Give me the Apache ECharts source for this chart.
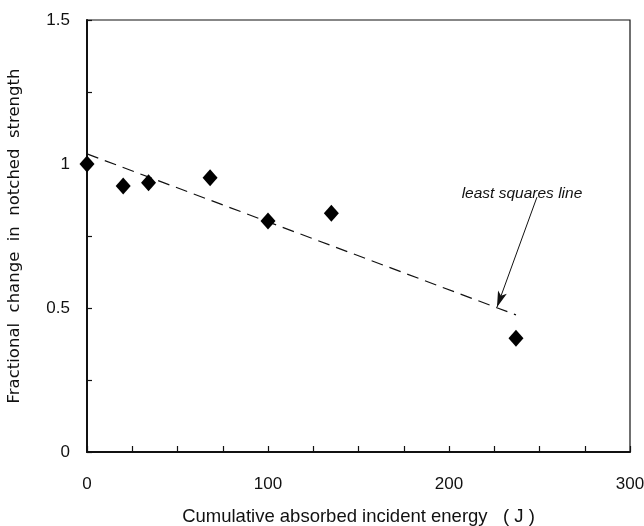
<!DOCTYPE html>
<html>
<head>
<meta charset="utf-8">
<script src="https://cdn.jsdelivr.net/npm/echarts@6/dist/echarts.min.js"></script>
<style>
  html, body { margin: 0; padding: 0; background: #fff; }
  #chart { width: 644px; height: 526px; }
</style>
</head>
<body>
<div id="chart"></div>
<script>
// Measured specimens: cumulative absorbed energy (J) vs fractional notched strength
const energy = [0, 20, 34, 68, 100, 135, 237];
const strength = [1.0, 0.924, 0.935, 0.952, 0.802, 0.829, 0.395];

// Least squares fit endpoints
const fitX = [0, 237];
const fitY = [1.035, 0.476];

// Annotation arrow: from label down to the fit line
const arrowFrom = [248.6, 0.885];
const arrowTo = [226.5, 0.503];
const arrowText = 'least squares line';

const xTicks = { min: 0, max: 300, interval: 100 };
const yTicks = { min: 0, max: 1.5, interval: 0.5 };

const chart = echarts.init(document.getElementById('chart'));

const tickFont = { fontFamily: 'Liberation Sans, Arial, sans-serif', fontSize: 17, color: '#111' };

chart.setOption({
  animation: false,
  grid: {
    left: 87, top: 20, right: 14, bottom: 74,
    containLabel: false, outerBoundsMode: 'none',
    show: true, borderColor: '#111', borderWidth: 1.2, backgroundColor: 'transparent'
  },
  xAxis: {
    type: 'value',
    min: xTicks.min, max: xTicks.max, interval: xTicks.interval,
    name: 'Cumulative absorbed incident energy   ( J )',
    nameLocation: 'middle', nameGap: 55,
    nameTextStyle: { fontFamily: 'Liberation Sans, Arial, sans-serif', fontSize: 18.5, color: '#111' },
    axisLine: { show: true, lineStyle: { color: '#111', width: 2 } },
    axisTick: { show: true, inside: true, length: 6, lineStyle: { color: '#111', width: 1.2 } },
    minorTick: { show: true, splitNumber: 4, length: 6, lineStyle: { color: '#111', width: 1.2 } },
    axisLabel: Object.assign({ margin: 24 }, tickFont),
    splitLine: { show: false }
  },
  yAxis: {
    type: 'value',
    min: yTicks.min, max: yTicks.max, interval: yTicks.interval,
    name: 'Fractional  change  in  notched  strength',
    nameLocation: 'middle', nameGap: 64,
    nameTextStyle: { fontFamily: 'DejaVu Sans, sans-serif', fontSize: 16.5, color: '#111' },
    axisLine: { show: true, lineStyle: { color: '#111', width: 2 } },
    axisTick: { show: true, inside: true, length: 5, lineStyle: { color: '#111', width: 1.2 } },
    minorTick: { show: true, splitNumber: 2, length: 5, lineStyle: { color: '#111', width: 1.2 } },
    axisLabel: Object.assign({ margin: 17 }, tickFont),
    splitLine: { show: false }
  },
  series: [
    {
      type: 'line',
      data: fitX.map((x, i) => [x, fitY[i]]),
      symbol: 'none',
      lineStyle: { color: '#111', width: 1.2, type: [12, 7] },
      z: 2,
      markLine: {
        silent: true,
        symbol: ['none', 'arrow'],
        symbolSize: [7, 16],
        lineStyle: { color: '#111', width: 1, type: 'solid' },
        label: { show: false },
        data: [[{ coord: arrowFrom }, { coord: arrowTo }]]
      }
    },
    {
      type: 'scatter',
      data: energy.map((x, i) => [x, strength[i]]),
      symbol: 'diamond',
      symbolSize: [15, 17],
      itemStyle: { color: '#000', opacity: 1 },
      z: 3
    }
  ]
});

// Italic annotation label above the arrow
const p = chart.convertToPixel({ gridIndex: 0 }, arrowFrom);
chart.setOption({
  graphic: [{
    type: 'text',
    x: p[0] - 15, y: p[1] + 5,
    style: {
      text: arrowText,
      fontFamily: 'Liberation Sans, Arial, sans-serif',
      fontStyle: 'italic', fontSize: 15.5,
      fill: '#111', align: 'center', verticalAlign: 'bottom'
    }
  }]
});
</script>
</body>
</html>
